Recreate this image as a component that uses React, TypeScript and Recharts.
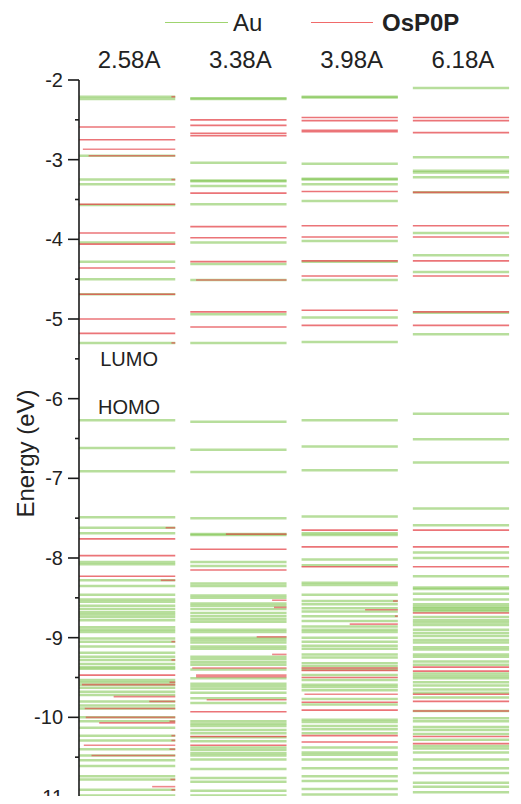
import React from 'react';
import { ComposedChart, XAxis, YAxis, ReferenceLine, ReferenceDot, Legend, Label, Scatter } from 'recharts';

const FONT = '"Liberation Sans", Arial, Helvetica, sans-serif';

// Column labels (Au–OsP0P distance)
const distances = ['2.58A', '3.38A', '3.98A', '6.18A'];

// y-axis ticks (major + minor)
const yTicks = [-11, -10.5, -10, -9.5, -9, -8.5, -8, -7.5, -7, -6.5, -6, -5.5, -5, -4.5, -4, -3.5, -3, -2.5, -2];

// Au levels (eV) per column
const au258 = [-2.21, -2.24, -2.95, -3.25, -3.31, -3.57, -4.04, -4.28, -4.50, -4.69, -5.30, -6.27, -6.62, -6.91, -7.49, -7.62, -7.69,
  -8.05, -8.08, -8.28, -8.35, -8.46, -8.52, -8.55, -8.60, -8.64, -8.68, -8.71, -8.74, -8.78, -8.87, -8.90, -8.93, -9.01, -9.05, -9.11,
  -9.19, -9.24, -9.28, -9.33, -9.37, -9.39, -9.53, -9.56, -9.59, -9.63, -9.68, -9.72, -9.80, -9.85, -9.89, -10.00, -10.05, -10.13,
  -10.23, -10.29, -10.40, -10.48, -10.54, -10.61, -10.74, -10.78, -10.91, -10.98];
const au338 = [-2.23, -2.24, -3.04, -3.26, -3.27, -3.33, -3.56, -4.04, -4.31, -4.51, -4.94, -5.30, -6.29, -6.64, -6.92, -7.50, -7.70, -7.71,
  -8.05, -8.10, -8.32, -8.35, -8.47, -8.50, -8.57, -8.60, -8.64, -8.69, -8.73, -8.77, -8.80, -8.90, -8.93, -9.00, -9.03, -9.06, -9.11,
  -9.14, -9.24, -9.27, -9.31, -9.34, -9.40, -9.51, -9.58, -9.61, -9.64, -9.69, -9.76, -9.82, -10.05, -10.08, -10.11, -10.16, -10.20,
  -10.25, -10.30, -10.38, -10.41, -10.45, -10.48, -10.53, -10.65, -10.76, -10.81, -10.92, -10.98];
const au398 = [-2.21, -2.22, -3.05, -3.24, -3.25, -3.31, -3.52, -4.02, -4.28, -4.51, -4.98, -5.29, -6.27, -6.60, -6.90, -7.48, -7.69, -7.71,
  -8.02, -8.09, -8.31, -8.34, -8.46, -8.54, -8.58, -8.63, -8.67, -8.73, -8.79, -8.86, -8.90, -8.93, -9.00, -9.05, -9.10, -9.14, -9.21,
  -9.25, -9.32, -9.36, -9.40, -9.47, -9.53, -9.59, -9.62, -9.66, -9.77, -9.84, -10.03, -10.06, -10.11, -10.15, -10.20, -10.38, -10.44,
  -10.47, -10.53, -10.64, -10.74, -10.80, -10.90, -10.97];
const au618 = [-2.10, -2.97, -3.14, -3.16, -3.22, -3.41, -3.92, -4.20, -4.41, -4.92, -5.19, -6.19, -6.51, -6.80, -7.38, -7.59, -7.93, -8.00,
  -8.23, -8.37, -8.39, -8.45, -8.52, -8.58, -8.61, -8.63, -8.65, -8.67, -8.74, -8.78, -8.81, -8.84, -8.90, -8.94, -8.98, -9.03, -9.06,
  -9.12, -9.15, -9.21, -9.24, -9.30, -9.34, -9.45, -9.48, -9.51, -9.56, -9.60, -9.65, -9.69, -9.75, -9.92, -10.01, -10.05, -10.12,
  -10.16, -10.21, -10.28, -10.36, -10.39, -10.44, -10.53, -10.64, -10.70, -10.82, -10.87, -10.94];

// OsP0P levels (eV) spanning the full column
const os258 = [-2.59, -2.75, -3.56, -3.92, -4.06, -4.36, -4.69, -5.00, -5.18, -7.76, -7.97, -8.23, -9.47];
const os338 = [-2.50, -2.57, -2.67, -2.70, -3.42, -3.84, -3.98, -4.28, -4.91, -5.10, -7.89, -8.15, -9.93, -10.24, -10.35];
const os398 = [-2.47, -2.51, -2.63, -2.65, -3.40, -3.83, -3.97, -4.27, -4.46, -4.89, -5.08, -7.65, -7.86, -8.11, -9.38, -9.41, -9.50,
  -9.81, -9.91, -10.23, -10.31];
const os618 = [-2.47, -2.51, -2.66, -3.41, -3.83, -3.97, -4.27, -4.46, -4.91, -5.08, -7.65, -7.86, -8.11, -8.69, -9.37, -9.42, -9.71,
  -9.80, -9.92, -10.24, -10.33];

// OsP0P levels that start part-way across the column: [energy, start fraction]
const os258Part = [[-2.87, 0.04], [-2.95, 0.1], [-8.28, 0.85], [-9.59, 0.03], [-9.74, 0.36], [-9.80, 0.73], [-9.89, 0.06], [-10.00, 0.07],
  [-10.07, 0.21], [-10.35, 0.05], [-10.48, 0.13], [-10.87, 0.76], [-2.21, 0.96], [-3.25, 0.96], [-5.30, 0.96], [-7.62, 0.9], [-9.05, 0.96],
  [-9.28, 0.96], [-9.56, 0.94], [-10.05, 0.94], [-10.23, 0.96], [-10.29, 0.96], [-10.40, 0.94], [-10.78, 0.95], [-10.91, 0.96]];
const os338Part = [[-4.51, 0.06], [-7.70, 0.37], [-8.53, 0.85], [-8.62, 0.87], [-8.99, 0.69], [-9.21, 0.85], [-9.38, 0.02], [-9.47, 0.06],
  [-9.49, 0.06], [-9.78, 0.17]];
const os398Part = [[-8.65, 0.66], [-8.83, 0.5], [-9.71, 0.03], [-8.54, 0.95], [-8.73, 0.97]];
const os618Part: number[][] = [];

const auCols = [au258, au338, au398, au618];
const osCols = [os258, os338, os398, os618];
const osPartCols = [os258Part, os338Part, os398Part, os618Part];

const COL_W = 0.865;
const LABEL_OFFSET = 0.45;
const GREEN = '#7cc24a';
const RED = '#e2393f';

// anchor points for the column titles (one per column)
const columnAnchors = distances.map((name, i) => ({ x: i + LABEL_OFFSET, y: -2, name }));

const YTick = (props: any) => {
  const { x, y, payload } = props;
  const major = Number.isInteger(payload.value);
  return (
    <g>
      <line x1={x - (major ? 11 : 4)} x2={x} y1={y} y2={y} stroke="#1a1a1a" strokeWidth={1.6} />
      {major && (
        <text x={x - 16} y={y} dy={7} textAnchor="end" fontSize={20} fill="#222" fontFamily={FONT}>
          {payload.value}
        </text>
      )}
    </g>
  );
};

const EnergyLabel = (props: any) => {
  const vb = props.viewBox || { x: 0, y: 80, width: 79, height: 717 };
  const cx = vb.x + 25;
  const cy = vb.y + vb.height / 2 + 15;
  return (
    <text x={cx} y={cy} transform={`rotate(-90 ${cx} ${cy})`} textAnchor="middle" dominantBaseline="central"
      fontSize={24} fill="#222" fontFamily={FONT}>
      Energy (eV)
    </text>
  );
};

const LegendContent = () => (
  <div style={{ position: 'relative', height: 30, width: 521, fontFamily: FONT, fontSize: 24, color: '#222' }}>
    <div style={{ position: 'absolute', left: 165, top: 22, width: 63, borderTop: '1.5px solid #9fd46f' }} />
    <div style={{ position: 'absolute', left: 233, top: 10, lineHeight: '26px' }}>Au</div>
    <div style={{ position: 'absolute', left: 311, top: 22, width: 62, borderTop: '1.5px solid #f06a6a' }} />
    <div style={{ position: 'absolute', left: 382, top: 10, lineHeight: '26px', fontWeight: 'bold' }}>OsP0P</div>
  </div>
);

export default function App() {
  const lines: React.ReactNode[] = [];
  auCols.forEach((col, i) => {
    col.forEach((e, j) => {
      lines.push(
        <ReferenceLine key={`au-${i}-${j}`} segment={[{ x: i, y: e }, { x: i + COL_W, y: e }]}
          stroke={GREEN} strokeWidth={2.5} strokeOpacity={0.55} ifOverflow="visible" />
      );
    });
  });
  osCols.forEach((col, i) => {
    col.forEach((e, j) => {
      lines.push(
        <ReferenceLine key={`os-${i}-${j}`} segment={[{ x: i, y: e }, { x: i + COL_W, y: e }]}
          stroke={RED} strokeWidth={1.6} strokeOpacity={0.7} ifOverflow="visible" />
      );
    });
  });
  osPartCols.forEach((col, i) => {
    col.forEach(([e, f], j) => {
      lines.push(
        <ReferenceLine key={`osp-${i}-${j}`} segment={[{ x: i + f * COL_W, y: e }, { x: i + COL_W, y: e }]}
          stroke={RED} strokeWidth={1.6} strokeOpacity={0.6} ifOverflow="visible" />
      );
    });
  });

  return (
    <div style={{ margin: -8, width: 521, height: 804, background: '#fff' }}>
      <ComposedChart width={521} height={804} margin={{ top: 0, right: 8, bottom: 7, left: 0 }}>
        <Legend verticalAlign="top" align="left" content={LegendContent}
          wrapperStyle={{ top: 0, left: 0, width: 521, height: 30 }} />
        <XAxis xAxisId={0} dataKey="x" type="number" orientation="top" domain={[0, 3.9]} allowDataOverflow
          ticks={columnAnchors.map((c) => c.x)} interval={0} axisLine={false} tickLine={false} height={50}
          tickSize={0} tickMargin={12}
          tickFormatter={(v: number) => distances[Math.round(v - LABEL_OFFSET)]}
          tick={{ fontSize: 24, fill: '#222', fontFamily: FONT }} />
        <YAxis yAxisId={0} dataKey="y" type="number" domain={[-11, -2]} allowDataOverflow ticks={yTicks} interval={0}
          width={79} tickSize={0} tickMargin={0} tickLine={false} tick={YTick}
          axisLine={{ stroke: '#1a1a1a', strokeWidth: 1.6 }}>
          <Label content={EnergyLabel} />
        </YAxis>
        <Scatter data={columnAnchors} dataKey="y" shape={() => null} isAnimationActive={false} legendType="none" />
        {lines}
        <ReferenceDot x={LABEL_OFFSET} y={-5.5} r={1} fill="none" stroke="none" ifOverflow="visible"
          label={{ value: 'LUMO', position: 'center', fontSize: 20, fill: '#222', fontFamily: FONT }} />
        <ReferenceDot x={LABEL_OFFSET} y={-6.1} r={1} fill="none" stroke="none" ifOverflow="visible"
          label={{ value: 'HOMO', position: 'center', fontSize: 20, fill: '#222', fontFamily: FONT }} />
        <ReferenceDot x={3.95} y={-8.72} r={1} fill="none" stroke="none" ifOverflow="visible"
          label={{ value: '*', position: 'center', fontSize: 22, fill: '#222', fontFamily: FONT }} />
      </ComposedChart>
    </div>
  );
}
